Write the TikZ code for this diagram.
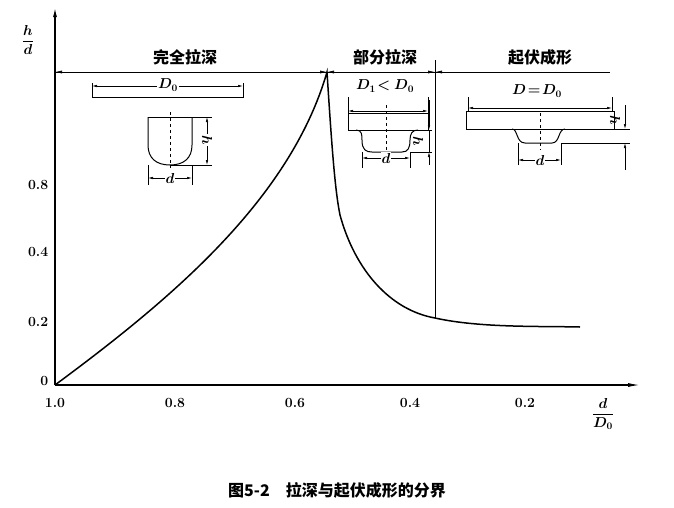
\documentclass[tikz,border=0pt]{standalone}
\usepackage{bm}
\usepackage{fontspec}
\newfontfamily\cjk{Noto Sans CJK SC}
\usetikzlibrary{arrows.meta}
\begin{document}
\begin{tikzpicture}[x=1pt,y=-1pt,line width=0.9pt,
  dim/.style={line width=0.6pt,{Latex[length=5pt,width=2.5pt]}-{Latex[length=5pt,width=2.5pt]}},
  thin/.style={line width=0.6pt},
  lab/.style={font=\bfseries\fontsize{14}{16}\selectfont},
  ital/.style={font=\fontsize{14}{16}\selectfont},
  title/.style={font=\cjk\bfseries\fontsize{16}{18}\selectfont}]
\useasboundingbox (0,0) rectangle (674,507);
% axes
\coordinate (O) at (55,385);
\coordinate (Ytop) at (55,8);
\coordinate (Xend) at (640,385);
\draw[-{Latex[length=9pt,width=4pt]},line width=1.2pt] (O) -- (Ytop);
\draw[-{Latex[length=12pt,width=4pt]},line width=1.2pt] (O) -- (Xend);
\node[font=\fontsize{14}{16}\selectfont] (hd) at (28,40) {$\displaystyle\frac{\bm h}{\bm d}$};
\node[font=\fontsize{14}{16}\selectfont] (dd) at (603,414) {$\displaystyle\frac{\bm d}{\bm{D_0}}$};
\foreach \x/\t in {55/1.0,175/0.8,295/0.6,410/0.4,525/0.2}
  \node[lab] (xt\t) at (\x,403) {\t};
\foreach \y/\t in {185/0.8,252/0.4,322/0.2}
  \node[lab,anchor=east] (yt\t) at (52,\y) {\t};
\node[lab,anchor=east] (y0) at (52,381) {0};
% curve
\coordinate (P) at (327,72);
\coordinate (V) at (435,318);
\draw[line width=1.5pt] (O) .. controls (170,300) and (290,200) .. (P)
  .. controls (332,150) and (335,190) .. (340,215) .. controls (355,270) and (390,310) .. (V)
  .. controls (480,328) and (540,326) .. (580,327);
% separator
\coordinate (Vt) at (435,60);
\draw[thin] (Vt) -- (V);
% top line
\coordinate (L) at (55,72);
\coordinate (R) at (610,72);
\draw[thin] (L) -- (R);
\draw[thin,-{Latex[length=7pt,width=3pt]}] (80,72) -- (L);
\draw[thin,-{Latex[length=7pt,width=3pt]}] (300,72) -- (P);
\draw[thin,-{Latex[length=7pt,width=3pt]}] (360,72) -- (P);
\draw[thin,-{Latex[length=7pt,width=3pt]}] (410,72) -- (Vt|-P);
\draw[thin,-{Latex[length=7pt,width=3pt]}] (460,72) -- (Vt|-P);
\node[title] (t1) at (185,57) {完全拉深};
\node[title] (t2) at (385,57) {部分拉深};
\node[title] (t3) at (540,57) {起伏成形};
% sketch 1
\draw[thin] (92,83) -- (92,97) -- (243,97) -- (243,83);
\draw[dim] (92,86) -- (243,86);
\node[fill=white,inner sep=1pt,ital] (D0a) at (168,85) {$\bm{D_0}$};
\draw[line width=1pt] (148,117) -- (192,117);
\draw[line width=1pt] (148,117) -- (148,145) .. controls (148,158) and (156,165) .. (170,165) .. controls (184,165) and (192,158) .. (192,145) -- (192,117);
\draw[thin,dashed] (170,112) -- (170,168);
\draw[thin] (192,117) -- (212,117) (170,165) -- (212,165);
\draw[dim] (207,117) -- (207,165);
\node[ital,rotate=-90,fill=white,inner sep=1pt] (h1) at (207,140) {$\bm h$};
\draw[thin] (148,165) -- (148,185) (192,165) -- (192,185);
\draw[dim] (148,178) -- (192,178);
\node[ital,fill=white,inner sep=1pt] (d1) at (170,178) {$\bm d$};
% sketch 2
\node[ital] (D1) at (385,86) {$\bm{D_1\!<D_0}$};
\draw[thin] (348,97) -- (348,113) (428,97) -- (428,113);
\draw[dim] (348,111) -- (428,111);
\draw[line width=1pt] (348,113) rectangle (428,130);
\draw[line width=1pt] (356,130) .. controls (362,130) and (362,135) .. (362,140) .. controls (362,150) and (366,152) .. (372,152) -- (402,152) .. controls (408,152) and (410,148) .. (410,140) .. controls (410,134) and (412,130) .. (418,130);
\draw[thin,dashed] (386,105) -- (386,158);
\draw[thin] (362,152) -- (362,168) (410,152) -- (410,168) (410,152) -- (432,152) (428,130) -- (432,130);
\draw[dim] (362,158) -- (410,158);
\node[ital,fill=white,inner sep=1pt] (d2) at (386,158) {$\bm d$};
\draw[thin,-{Latex[length=5pt,width=2.5pt]}] (429,100) -- (429,130);
\draw[thin,-{Latex[length=5pt,width=2.5pt]}] (429,165) -- (429,152);
\draw[thin] (429,130) -- (429,152);
\node[ital,rotate=-90] (h2) at (418,141) {$\bm h$};
% sketch 3
\node[ital] (D3) at (537,91) {$\bm{D\!=\!D_0}$};
\draw[thin] (468,97) -- (468,111) (612,97) -- (612,111);
\draw[dim] (468,108) -- (612,108);
\draw[line width=1pt] (466,111) rectangle (614,129);
\draw[line width=1pt] (512,129) .. controls (518,129) and (516,143) .. (525,143) -- (552,143) .. controls (560,143) and (558,129) .. (565,129);
\draw[thin,dashed] (540,113) -- (540,150);
\draw[thin] (518,143) -- (518,165) (561,143) -- (561,165) (614,129) -- (630,129) (561,143) -- (630,143);
\draw[dim] (518,160) -- (561,160);
\node[ital,fill=white,inner sep=1pt] (d3) at (540,160) {$\bm d$};
\draw[thin,-{Latex[length=5pt,width=2.5pt]}] (625,105) -- (625,129);
\draw[thin,-{Latex[length=5pt,width=2.5pt]}] (625,170) -- (625,143);
\node[ital,rotate=-90] (h3) at (615,120) {$\bm h$};
% caption
\node[title] (cap) at (337,490) {图5-2\quad 拉深与起伏成形的分界};
\end{tikzpicture}
\end{document}
